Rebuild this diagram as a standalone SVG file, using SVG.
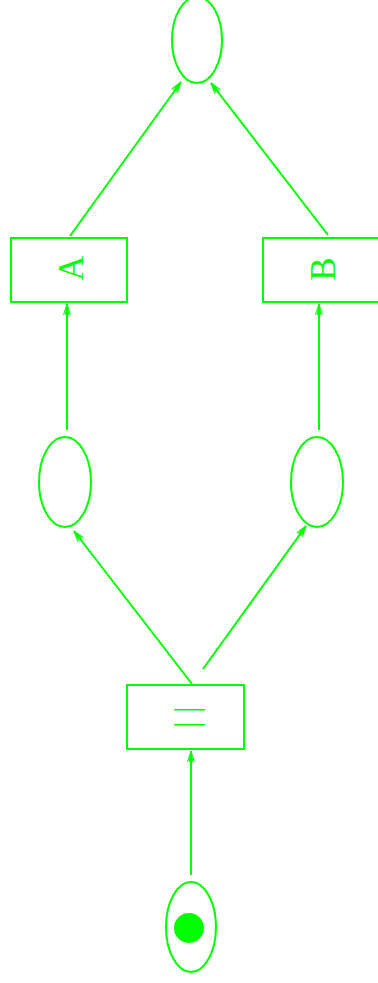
<svg xmlns="http://www.w3.org/2000/svg" width="378" height="983" viewBox="0 0 378 983">
<style>
.n{fill:none;stroke:#00ff00;stroke-width:2}
.t{fill:#00ff00;font-family:"Liberation Serif",serif;font-size:35px;text-anchor:middle}
.e{stroke:#00ff00;stroke-width:2;fill:none}
</style>
<defs>
<marker id="ar" markerUnits="userSpaceOnUse" markerWidth="14" markerHeight="10" viewBox="-12 -5 14 10" refX="0" refY="0" orient="auto">
<path d="M0,0L-11,-3.5M0,0L-11,-1.8M0,0L-11,1.8M0,0L-11,3.5" stroke="#00ff00" stroke-width="1" fill="none"/>
</marker>
</defs>
<g id="edges">
<line class="e" x1="191" y1="875" x2="191" y2="751" marker-end="url(#ar)"/>
<line class="e" x1="192" y1="684" x2="74" y2="531" marker-end="url(#ar)"/>
<line class="e" x1="203" y1="669" x2="306" y2="526" marker-end="url(#ar)"/>
<line class="e" x1="67" y1="430" x2="67" y2="304" marker-end="url(#ar)"/>
<line class="e" x1="319" y1="430" x2="319" y2="304" marker-end="url(#ar)"/>
<line class="e" x1="70" y1="236" x2="181" y2="82" marker-end="url(#ar)"/>
<line class="e" x1="328" y1="235" x2="211" y2="83" marker-end="url(#ar)"/>
</g>
<g id="top"><ellipse class="n" cx="197" cy="40" rx="25" ry="43"/></g>
<g id="A"><rect class="n" x="11" y="238" width="116" height="64"/><text class="t" transform="translate(83,268) rotate(-90)">A</text></g>
<g id="B"><rect class="n" x="263" y="238" width="116" height="64"/><text class="t" transform="translate(335,269) rotate(-90)">B</text></g>
<g id="left"><ellipse class="n" cx="65" cy="482" rx="26" ry="45"/></g>
<g id="right"><ellipse class="n" cx="317" cy="482" rx="26" ry="45"/></g>
<g id="fork"><rect class="n" x="127" y="685" width="117" height="64"/><text class="t" style="font-size:33px;letter-spacing:8.4px" transform="translate(198,713) rotate(-90)">||</text></g>
<g id="start"><ellipse class="n" cx="191" cy="927" rx="25" ry="45"/><circle cx="189" cy="928" r="15" fill="#00ff00"/></g>
</svg>
